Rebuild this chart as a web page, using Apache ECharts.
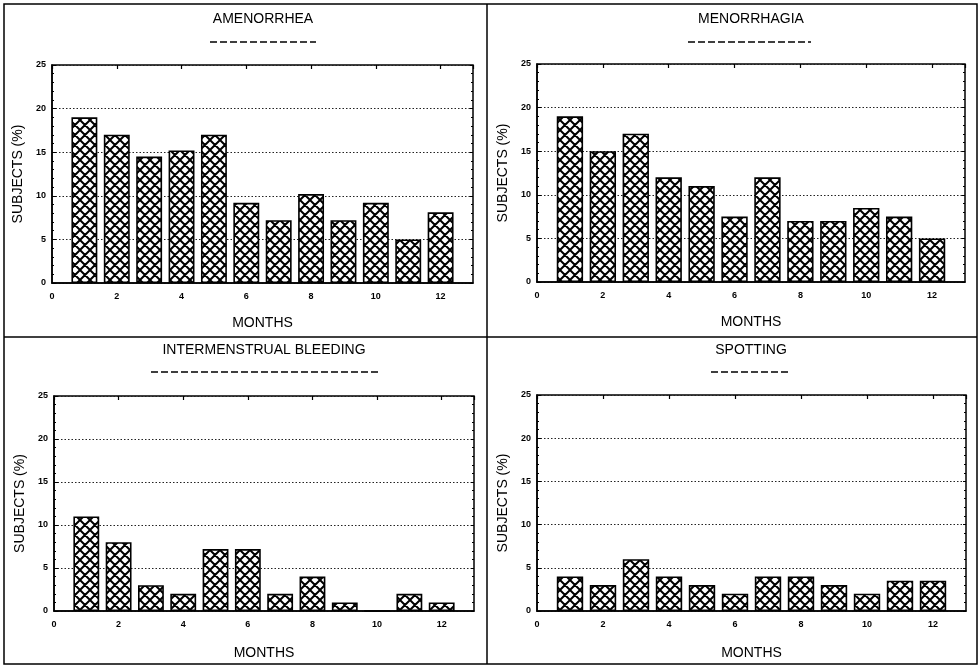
<!DOCTYPE html>
<html>
<head>
<meta charset="utf-8">
<script src="https://cdn.jsdelivr.net/npm/echarts@6/dist/echarts.min.js"></script>
<style>html,body{margin:0;padding:0;background:#fff}#c{width:979px;height:666px}</style>
</head>
<body>
<div id="c"></div>
<script>
// ---- data ----
const months = [1,2,3,4,5,6,7,8,9,10,11,12];
const amenorrhea = [19, 17, 14.5, 15.2, 17, 9.2, 7.2, 10.2, 7.2, 9.2, 5, 8.1];
const menorrhagia = [19, 15, 17, 12, 11, 7.5, 12, 7, 7, 8.5, 7.5, 5];
const intermenstrual = [11, 8, 3, 2, 7.2, 7.2, 2, 4, 1, 0, 2, 1];
const spotting = [4, 3, 6, 4, 3, 2, 4, 4, 3, 2, 3.5, 3.5];
const panelTitles = ['AMENORRHEA', 'MENORRHAGIA', 'INTERMENSTRUAL BLEEDING', 'SPOTTING'];
const xAxisTitle = 'MONTHS';
const yAxisTitle = 'SUBJECTS (%)';
const xTickLabels = ['0','2','4','6','8','10','12'];
const yTickLabels = ['0','5','10','15','20','25'];

// ---- layout ----
const grids = [
  {left: 52, top: 65, width: 421, height: 218},
  {left: 537, top: 64, width: 428, height: 218},
  {left: 54, top: 396, width: 420, height: 215},
  {left: 537, top: 395, width: 429, height: 216}
];
const titlePos = [[263,19],[751,19],[264,350],[751,350]];
const underline = [[210,316,42],[688,811,42],[151,378,372],[711,791,372]];
const nameGapX = [33,33,35,35];
const allData = [amenorrhea, menorrhagia, intermenstrual, spotting];

// hatch pattern
const P = 10;
const pc = document.createElement('canvas');
pc.width = P; pc.height = P;
const g = pc.getContext('2d');
g.fillStyle = '#fff'; g.fillRect(0,0,P,P);
g.strokeStyle = '#000'; g.lineWidth = 2;
g.beginPath();
for (const dx of [-P,0,P]) {
  g.moveTo(dx,0); g.lineTo(dx+P,P);
  g.moveTo(dx+P,0); g.lineTo(dx,P);
}
g.stroke();

const font = '"Liberation Sans", Arial, sans-serif';
const xAxes = [], yAxes = [], series = [], graphics = [];

grids.forEach((gr, i) => {
  xAxes.push({
    type: 'value', gridIndex: i, min: 0, max: 13, interval: 2, position: 'bottom',
    name: xAxisTitle, nameLocation: 'middle', nameGap: nameGapX[i],
    nameTextStyle: {fontFamily: font, fontSize: 14, color: '#000'},
    axisLine: {show: true, onZero: false, lineStyle: {color: '#000', width: 1.5}},
    axisTick: {show: false},
    axisLabel: {color: '#000', fontFamily: font, fontSize: 9, fontWeight: 'bold', margin: 9,
      formatter: v => xTickLabels.indexOf(String(v)) >= 0 ? String(v) : ''},
    splitLine: {show: false}
  });
  xAxes.push({
    type: 'value', gridIndex: i, min: 0, max: 13, interval: 2, position: 'top',
    axisLine: {show: false, onZero: false}, axisLabel: {show: false}, splitLine: {show: false},
    axisTick: {show: true, inside: true, length: 4, lineStyle: {color: '#000', width: 1.2}}
  });
  yAxes.push({
    type: 'value', gridIndex: i, min: 0, max: 25, interval: 5, position: 'left',
    name: yAxisTitle, nameLocation: 'middle', nameGap: 27,
    nameTextStyle: {fontFamily: font, fontSize: 14, color: '#000'},
    axisLine: {show: true, onZero: false, lineStyle: {color: '#000', width: 1.5}},
    axisTick: {show: true, inside: true, length: 4, lineStyle: {color: '#000'}},
    minorTick: {show: true, splitNumber: 5, length: 2, lineStyle: {color: '#000'}},
    axisLabel: {color: '#000', fontFamily: font, fontSize: 9, fontWeight: 'bold', margin: 6,
      formatter: v => yTickLabels.indexOf(String(v)) >= 0 ? String(v) : ''},
    splitLine: {show: true, lineStyle: {color: '#222', width: 1, type: [1.5, 2]}}
  });
  yAxes.push({
    type: 'value', gridIndex: i, min: 0, max: 25, interval: 5, position: 'right',
    axisLine: {show: false, onZero: false}, axisLabel: {show: false}, splitLine: {show: false},
    axisTick: {show: true, inside: true, length: 3, lineStyle: {color: '#000'}},
    minorTick: {show: true, splitNumber: 5, length: 2, lineStyle: {color: '#000'}}
  });
  series.push({
    type: 'bar', xAxisIndex: i*2, yAxisIndex: i*2,
    barWidth: gr.width / 13 * 0.8,
    itemStyle: {color: {image: pc, repeat: 'repeat'}, borderColor: '#000', borderWidth: 1.6},
    data: months.map((m, k) => [m, allData[i][k]]),
    silent: true
  });
  graphics.push({
    type: 'text', x: titlePos[i][0], y: titlePos[i][1],
    style: {text: panelTitles[i], textAlign: 'center', textVerticalAlign: 'middle',
      font: '14px ' + font, fill: '#000'}
  });
  graphics.push({
    type: 'line', shape: {x1: underline[i][0], y1: underline[i][2], x2: underline[i][1], y2: underline[i][2]},
    style: {stroke: '#000', lineWidth: 1.5, lineDash: [7, 3]}
  });
});

// panel frames
graphics.push({type: 'rect', shape: {x: 4, y: 4, width: 973, height: 660},
  style: {fill: 'none', stroke: '#000', lineWidth: 1.5}});
graphics.push({type: 'line', shape: {x1: 487, y1: 4, x2: 487, y2: 664}, style: {stroke: '#000', lineWidth: 1.5}});
graphics.push({type: 'line', shape: {x1: 4, y1: 337, x2: 977, y2: 337}, style: {stroke: '#000', lineWidth: 1.5}});

const chart = echarts.init(document.getElementById('c'), null, {renderer: 'canvas'});
chart.setOption({
  animation: false,
  backgroundColor: '#fff',
  grid: grids.map(gr => Object.assign({show: true, borderColor: '#000', borderWidth: 1.5, backgroundColor: 'transparent'}, gr)),
  xAxis: xAxes,
  yAxis: yAxes,
  series: series,
  graphic: graphics
});
</script>
</body>
</html>
